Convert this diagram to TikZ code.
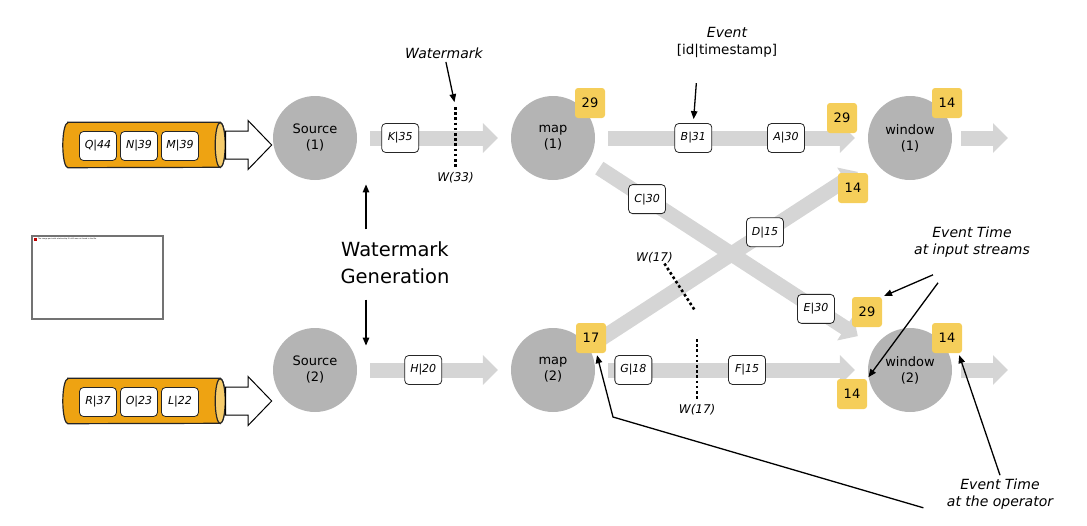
\documentclass[tikz,border=0pt]{standalone}
\usepackage{fontspec}
\setmainfont{DejaVu Sans}
\usetikzlibrary{positioning,shapes.arrows,arrows.meta}

\definecolor{opgrey}{RGB}{180,180,180}
\definecolor{flowgrey}{RGB}{213,213,213}
\definecolor{badgeyellow}{RGB}{245,206,90}
\definecolor{cylorange}{RGB}{238,163,18}
\definecolor{cylcap}{RGB}{246,204,108}

\tikzset{
  opnode/.style={circle, fill=opgrey, minimum size=84pt, inner sep=0pt, align=center,
    font=\fontsize{13}{16}\selectfont},
  evbox/.style={draw=black!85, line width=0.8pt, fill=white, rounded corners=4pt,
    minimum width=37pt, minimum height=29pt, inner sep=1pt, font=\fontsize{11}{13}\selectfont\itshape},
  badge/.style={fill=badgeyellow, rounded corners=3pt, minimum size=30pt, inner sep=0pt,
    font=\fontsize{13}{15}\selectfont},
  flow/.style={draw=flowgrey, line width=15pt, -{Triangle[width=29pt,length=15pt]},
    shorten <=13pt, shorten >=13pt},
  wmark/.style={sloped, minimum height=47pt, minimum width=0pt, inner sep=0pt},
  wmline/.style={line width=2.6pt, dash pattern=on 2.6pt off 2.6pt},
  wlabel/.style={font=\fontsize{12}{14}\selectfont\itshape, inner sep=3pt},
  queue/.style={minimum width=162pt, minimum height=45pt, inner sep=0pt},
  queuebody/.style={draw=black!85, line width=1.2pt, fill=cylorange},
  queuecap/.style={draw=black!85, line width=1.2pt, fill=cylcap},
  inarrow/.style={single arrow, draw=black, line width=1pt, fill=white,
    inner xsep=0pt, inner ysep=13.5pt,
    minimum height=46pt, minimum width=48pt, single arrow head extend=10.5pt,
    single arrow tip angle=92},
  itlabel/.style={font=\fontsize{14}{17}\selectfont\itshape, align=center},
  callout/.style={draw=black, line width=1.3pt}
}

\begin{document}
\begin{tikzpicture}[x=1pt, y=-1pt, on grid, >={Triangle[length=8pt,width=6.5pt]}]
  \useasboundingbox (0,0) rectangle (1087,525);

  % operators
  \node[opnode] (src_1) at (315,138) {Source\\(1)};
  \node[opnode] (map_1) [right=238pt of src_1] {map\\(1)};
  \node[opnode] (win_1) [right=357pt of map_1] {window\\(1)};
  \node[opnode] (src_2) [below=232pt of src_1] {Source\\(2)};
  \node[opnode] (map_2) [right=238pt of src_2] {map\\(2)};
  \node[opnode] (win_2) [right=357pt of map_2] {window\\(2)};

  % input queues
  \node[queue] (cyl_1) at (144,145) {};
  \node[queue] (cyl_2) at (144,401) {};
  \foreach \c in {cyl_1,cyl_2} {
    \draw[queuebody] ([xshift=5pt]\c.north west) -- ([xshift=-5pt]\c.north east)
      arc[start angle=90, end angle=-90, x radius=5pt, y radius=22.5pt]
      -- ([xshift=5pt]\c.south west)
      arc[start angle=270, end angle=90, x radius=5pt, y radius=22.5pt] -- cycle;
    \draw[queuecap] ([xshift=-5pt]\c.east) ellipse [x radius=5pt, y radius=22.5pt];
  }
  \node[inarrow, anchor=tail] (in_1) at (cyl_1.east) {};
  \node[inarrow, anchor=tail] (in_2) at (cyl_2.east) {};
  \node[evbox] (m39) at (180,146) {M|39};
  \node[evbox] (n39) [left=41pt of m39] {N|39};
  \node[evbox] (q44) [left=41pt of n39] {Q|44};
  \node[evbox] (l22) at (180,402) {L|22};
  \node[evbox] (o23) [left=41pt of l22] {O|23};
  \node[evbox] (r37) [left=41pt of o23] {R|37};

  % streams
  \coordinate[right=98pt of win_1] (out_1);
  \coordinate[right=98pt of win_2] (out_2);
  \path (src_1) edge[flow] node[evbox, pos=.28] (k35) {K|35}
                           node[wmark, pos=.64] (wm_1) {} (map_1)
        (src_2) edge[flow] node[evbox, pos=.43] (h20) {H|20} (map_2)
        (map_1) edge[flow] node[evbox, pos=.36] (b31) {B|31}
                           node[evbox, pos=.70] (a30) {A|30} (win_1)
        (map_2) edge[flow] node[evbox, pos=.14] (g18) {G|18}
                           node[wmark, pos=.374] (wm_2) {}
                           node[evbox, pos=.557] (f15) {F|15} (win_2)
        (map_1) edge[flow, shorten >=20pt] node[evbox, pos=.205] (c30) {C|30}
                           node[evbox, pos=.795] (e30) {E|30} (win_2)
        (map_2) edge[flow, shorten >=20pt] node[wmark, minimum height=42pt, pos=.32] (wm_3) {}
                           node[evbox, pos=.617] (d15) {D|15} (win_1)
        (win_1) edge[flow, shorten <=9pt, shorten >=0pt] (out_1)
        (win_2) edge[flow, shorten <=9pt, shorten >=0pt] (out_2);

  % watermarks
  \foreach \w in {wm_1,wm_2,wm_3}
    \draw[wmline] (\w.north) -- (\w.south);
  \node[wlabel, below] (w33) at (wm_1.south) {W(33)};
  \node[wlabel, below] (w17_b) at (wm_2.south) {W(17)};
  \node[wlabel, above] (w17_a) at ([shift={(-10pt,-3pt)}]wm_3.north) {W(17)};

  % event time badges
  \node[badge] (bm_1) [above right=35pt and 37pt of map_1] {29};
  \node[badge] (bm_2) [above right=32pt and 38pt of map_2] {17};
  \node[badge] (bw_1) [above right=35pt and 37pt of win_1] {14};
  \node[badge] (bw_2) [above right=32pt and 37pt of win_2] {14};
  \node[badge] (bi_1) [above left=20pt and 68pt of win_1] {29};
  \node[badge] (bi_2) [below left=50pt and 57pt of win_1] {14};
  \node[badge] (bi_3) [above left=58pt and 43pt of win_2] {29};
  \node[badge] (bi_4) [below left=24pt and 58pt of win_2] {14};

  % annotations
  \node[itlabel] (wm_lbl) at (444,53) {Watermark};
  \draw[callout, ->, shorten >=5pt] (wm_lbl) -- (wm_1.north);

  \node[align=center, font=\fontsize{13.5}{17}\selectfont] (ev_lbl) at (727,42)
    {\fontsize{14}{17}\selectfont\itshape Event\\{[id|timestamp]}};
  \draw[callout, ->, shorten >=4pt] ([xshift=3pt, yshift=40pt]b31.north) -- (b31.north);

  \node[align=center, font=\fontsize{19.5}{27}\selectfont] (wm_gen) at (395,263)
    {Watermark\\Generation};
  \draw[callout, ->] ([xshift=-29pt, yshift=9pt]wm_gen.north) -- ++(0,-45);
  \draw[callout, ->] ([xshift=-29pt, yshift=-12pt]wm_gen.south) -- ++(0,46);

  \node[itlabel] (in_lbl) at (972,242) {Event Time\\at input streams};
  \draw[callout, ->, shorten >=2pt] ([shift={(-39pt,-14pt)}]in_lbl.south) -- (bi_3.north east);
  \draw[callout, ->, shorten >=2pt] ([shift={(-34pt,-22pt)}]in_lbl.south) -- (bi_4.north east);

  \node[itlabel] (op_lbl) at (1000,494) {Event Time\\at the operator};
  \coordinate (kink) at (613,417);
  \draw[callout, ->] (op_lbl.north) -- ([xshift=-3pt, yshift=-2pt]bw_2.south east);
  \draw[callout, ->] ([shift={(-20pt,5pt)}]op_lbl.south west) -- (kink)
    -- ([xshift=6pt, yshift=-2pt]bm_2.south);

  % missing image placeholder
  \node[draw=black!55, line width=1.2pt, minimum width=131pt, minimum height=83pt] (img) at (97.5,277.5) {};
  \node[fill=red!75!black, minimum size=3pt, inner sep=0pt, anchor=north west] (img_icon)
    at ([shift={(2pt,-2pt)}]img.north west) {};
  \node[font=\fontsize{1.8}{2}\selectfont, anchor=west, inner sep=1pt] (img_txt) at (img_icon.east)
    {The image part with relationship ID rId2 was not found in the file.};
\end{tikzpicture}
\end{document}
